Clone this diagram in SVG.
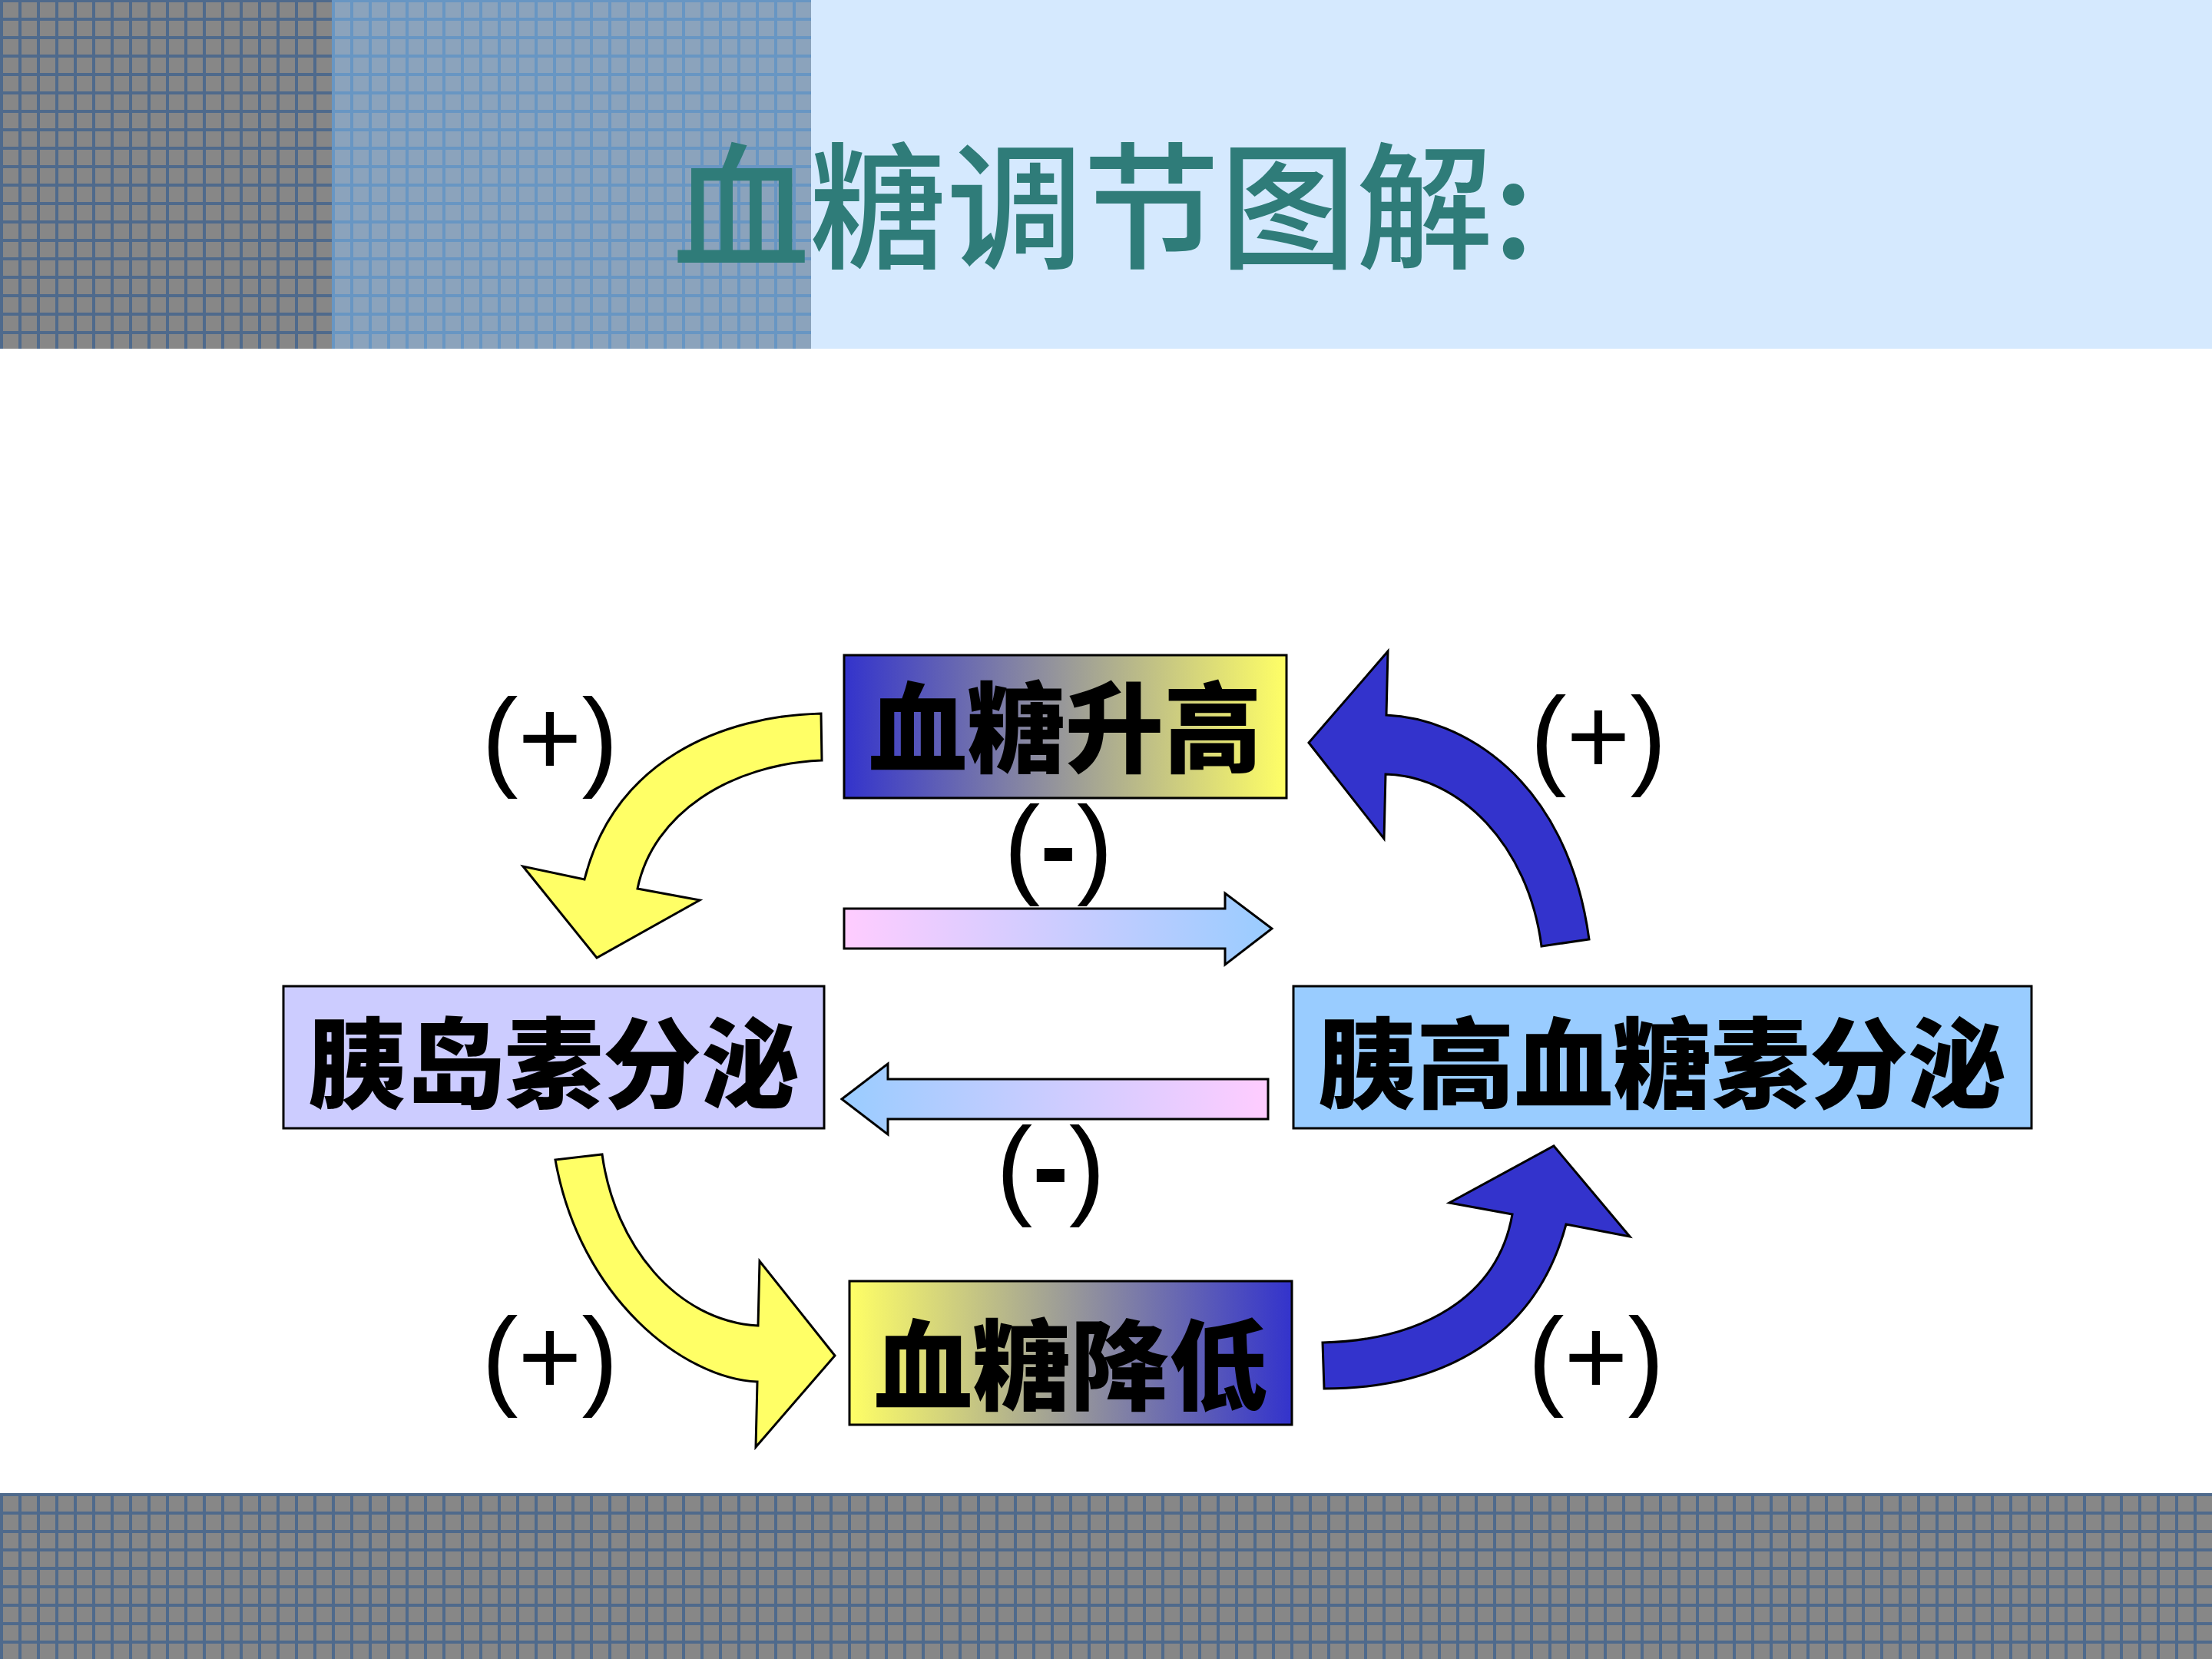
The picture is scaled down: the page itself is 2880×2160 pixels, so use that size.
<svg xmlns="http://www.w3.org/2000/svg" width="2880" height="2160" viewBox="0 0 2880 2160">
  <defs>
    <pattern id="gridGrey" x="0" y="23" width="24" height="24" patternUnits="userSpaceOnUse">
      <rect width="24" height="24" fill="#4f6a8c"/>
      <rect x="4" y="4" width="20" height="20" fill="#878787"/>
    </pattern>
    <pattern id="gridBlue" x="0" y="23" width="24" height="24" patternUnits="userSpaceOnUse">
      <rect width="24" height="24" fill="#6896c3"/>
      <rect x="4" y="4" width="20" height="20" fill="#8ba3bc"/>
    </pattern>
    <pattern id="gridBottom" x="0" y="1944" width="24" height="24" patternUnits="userSpaceOnUse">
      <rect width="24" height="24" fill="#4f6a8c"/>
      <rect x="4" y="4" width="20" height="20" fill="#878787"/>
    </pattern>
    <linearGradient id="gBlueYellow" x1="0" y1="0" x2="1" y2="0">
      <stop offset="0" stop-color="#3333cc"/>
      <stop offset="1" stop-color="#ffff66"/>
    </linearGradient>
    <linearGradient id="gYellowBlue" x1="0" y1="0" x2="1" y2="0">
      <stop offset="0" stop-color="#ffff66"/>
      <stop offset="1" stop-color="#3333cc"/>
    </linearGradient>
    <linearGradient id="gPinkBlue" x1="0" y1="0" x2="1" y2="0">
      <stop offset="0" stop-color="#ffccff"/>
      <stop offset="1" stop-color="#99ccff"/>
    </linearGradient>
    <linearGradient id="gBluePink" x1="0" y1="0" x2="1" y2="0">
      <stop offset="0" stop-color="#99ccff"/>
      <stop offset="1" stop-color="#ffccff"/>
    </linearGradient>
  </defs>
  <style>
    .box { stroke: #000000; stroke-width: 3; }
    .boxText { font-family: "Noto Sans CJK SC", "Noto Sans CJK TC", sans-serif; font-weight: 900; font-size: 128px; fill: #000000; text-anchor: middle; }
    .sign { font-family: "Liberation Sans", Arial, sans-serif; font-size: 142px; fill: #000000; text-anchor: middle; }
    .arrow { stroke: #000000; stroke-width: 3; stroke-linejoin: miter; }
    .title { font-family: "Noto Sans CJK SC", sans-serif; font-weight: 500; font-size: 178px; fill: #2f7c79; }
  </style>

  <rect width="2880" height="2160" fill="#ffffff"/>

  <g id="header">
    <rect x="0" y="0" width="2880" height="454" fill="#d5e9fe"/>
    <rect x="0" y="0" width="432" height="454" fill="url(#gridGrey)"/>
    <rect x="432" y="0" width="624" height="454" fill="url(#gridBlue)"/>
    <text class="title" x="876" y="336">血糖调节图解:</text>
  </g>

  <g id="footer">
    <rect x="0" y="1944" width="2880" height="216" fill="url(#gridBottom)"/>
  </g>

  <g id="connectors">
    <path id="arrow-rise-to-insulin" class="arrow" fill="#ffff66" d="M 1069,929 C 940,932 800,990 761,1145 L 681,1128 L 777,1247 L 911,1172 L 830,1157 C 850,1060 950,995 1070,990 Z"/>
    <path id="arrow-glucagon-to-rise" class="arrow" fill="#3333cc" d="M 1704,967 L 1807,848 L 1805,931 C 1900,935 2040,1010 2069,1223 L 2007,1232 C 1990,1100 1900,1010 1804,1008 L 1802,1092 Z"/>
    <path id="arrow-insulin-to-fall" class="arrow" fill="#ffff66" d="M 723,1510 C 755,1690 890,1795 986,1799 L 984,1884 L 1087,1765 L 989,1642 L 987,1726 C 880,1720 800,1620 784,1503 Z"/>
    <path id="arrow-fall-to-glucagon" class="arrow" fill="#3333cc" d="M 1722,1748 C 1850,1745 1950,1690 1969,1581 L 1887,1566 L 2023,1492 L 2122,1610 L 2039,1594 C 2000,1740 1880,1808 1724,1808 Z"/>
    <path id="arrow-rise-to-glucagon" class="arrow" fill="url(#gPinkBlue)" d="M 1099,1183 L 1595,1183 L 1595,1163 L 1656,1209 L 1595,1256 L 1595,1235 L 1099,1235 Z"/>
    <path id="arrow-glucagon-to-insulin" class="arrow" fill="url(#gBluePink)" d="M 1096,1431 L 1156,1385 L 1156,1405 L 1651,1405 L 1651,1457 L 1156,1457 L 1156,1477 Z"/>
  </g>

  <g id="labels">
    <text class="sign" x="716" y="1010">(+)</text>
    <text class="sign" x="2081" y="1008">(+)</text>
    <text class="sign" x="1378" y="1150" font-size="130">(<tspan font-weight="bold">-</tspan>)</text>
    <text class="sign" x="1368" y="1568">(<tspan font-weight="bold">-</tspan>)</text>
    <text class="sign" x="716" y="1816">(+)</text>
    <text class="sign" x="2078" y="1816">(+)</text>
  </g>

  <g id="node-rise">
    <rect class="box" x="1099" y="853" width="576" height="186" fill="url(#gBlueYellow)"/>
    <text class="boxText" x="1387" y="996">血糖升高</text>
  </g>

  <g id="node-insulin">
    <rect class="box" x="369" y="1284" width="704" height="185" fill="#ccccff"/>
    <text class="boxText" x="721" y="1433">胰岛素分泌</text>
  </g>

  <g id="node-glucagon">
    <rect class="box" x="1684" y="1284" width="961" height="185" fill="#99ccff"/>
    <text class="boxText" x="2164" y="1433">胰高血糖素分泌</text>
  </g>

  <g id="node-fall">
    <rect class="box" x="1106" y="1668" width="576" height="187" fill="url(#gYellowBlue)"/>
    <text class="boxText" x="1394" y="1826">血糖降低</text>
  </g>
</svg>
